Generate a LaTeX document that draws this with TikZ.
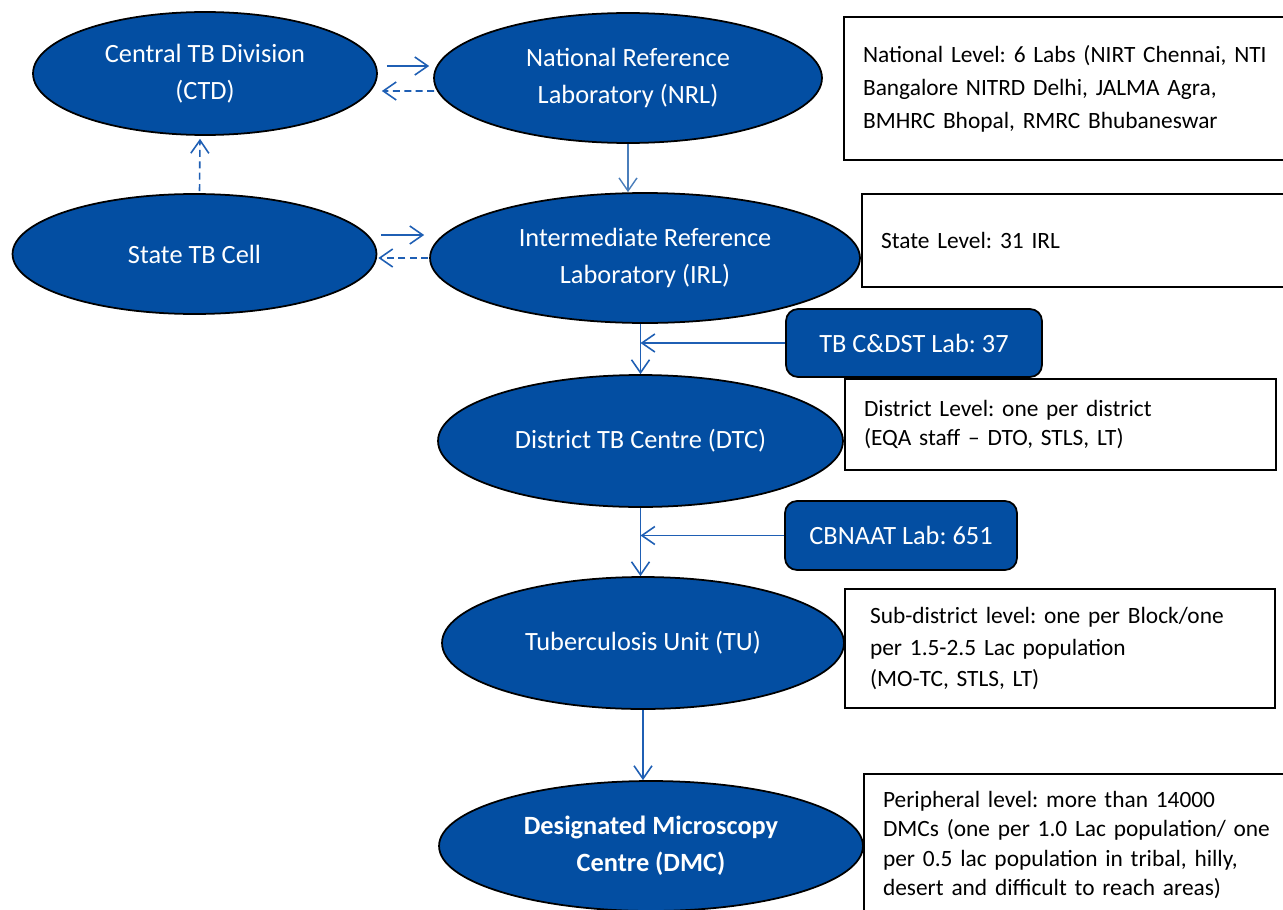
\documentclass[tikz,border=0pt]{standalone}
\usepackage{fontspec}
\setmainfont{Carlito}
\usetikzlibrary{shapes.geometric,arrows.meta}
\definecolor{ovalblue}{HTML}{034EA2}
\definecolor{linkblue}{HTML}{1F5FB4}
\definecolor{paleblue}{HTML}{4A7EBB}

\begin{document}
\frenchspacing
\begin{tikzpicture}[
    x = 0.02cm, y = -0.02cm,
    oval/.style={
        ellipse,
        draw = black,
        fill = ovalblue,
        line width = 1pt,
        text = white,
        inner sep = 0pt,
        align = center,
        font = \fontsize{15}{21}\selectfont
    },
    labbox/.style={
        draw = black,
        fill = ovalblue,
        line width = 1pt,
        rounded corners = 0.24cm,
        text = white,
        font = \fontsize{15}{18}\selectfont
    },
    infobox/.style={
        draw = black,
        fill = white,
        line width = 1.2pt,
        anchor = north west,
        align = left,
        inner xsep = 0.38cm,
        inner ysep = 0pt,
        font = \fontsize{13.3}{17.5}\selectfont
    },
    link/.style={
        draw = linkblue,
        line width = 0.9pt
    },
    back/.style={
        link,
        dash pattern = on 4pt off 2.5pt
    },
    >={Straight Barb[length=0.26cm, width=0.36cm]}
]
\path[use as bounding box, clip] (0,0) rectangle (1283,909);

% hierarchy
\node[oval, minimum width=6.88cm, minimum height=2.46cm] (CTD) at (205,73.5)
    {Central TB Division\\(CTD)};
\node[oval, minimum width=7.76cm, minimum height=2.6cm] (NRL) at (628,78)
    {National Reference\\Laboratory (NRL)};
\node[oval, minimum width=7.28cm, minimum height=2.4cm] (STC) at (194.5,254)
    {State TB Cell};
\node[oval, minimum width=8.6cm, minimum height=2.6cm] (IRL) at (645,258)
    {Intermediate Reference\\Laboratory (IRL)};
\node[oval, minimum width=8.1cm, minimum height=2.64cm] (DTC) at (640.5,441)
    {District TB Centre (DTC)};
\node[oval, minimum width=8.04cm, minimum height=2.64cm] (TU) at (643,643)
    {Tuberculosis Unit (TU)};
\node[oval, minimum width=8.48cm, minimum height=2.6cm, font=\fontsize{15}{21}\selectfont\bfseries] (DMC) at (651,846)
    {Designated Microscopy\\Centre (DMC)};

% labs
\node[labbox, minimum width=5.12cm, minimum height=1.36cm] (cdst) at (914,343) {TB C\&DST Lab: 37};
\node[labbox, minimum width=4.64cm, minimum height=1.38cm] (cbnaat) at (901,535.5) {CBNAAT Lab: 651};

% levels
\node[infobox, text width=8.24cm, minimum height=2.86cm, font=\fontsize{13.3}{18.7}\selectfont] (national) at (843,16)
    {National Level: 6 Labs (NIRT Chennai, NTI\\Bangalore NITRD Delhi, JALMA Agra,\\BMHRC Bhopal, RMRC Bhubaneswar};
\node[infobox, text width=7.84cm, minimum height=1.86cm] (statelvl) at (861,193)
    {State Level: 31 IRL};
\node[infobox, text width=7.86cm, minimum height=1.82cm, font=\fontsize{13.3}{17}\selectfont] (district) at (844,378)
    {District Level: one per district\\(EQA staff -- DTO, STLS, LT)};
\node[infobox, inner xsep=0.5cm, text width=7.6cm, minimum height=2.38cm, font=\fontsize{13.3}{17.9}\selectfont] (subdist) at (844,588)
    {Sub-district level: one per Block/one\\per 1.5-2.5 Lac population\\(MO-TC, STLS, LT)};
\node[infobox, text width=7.84cm, minimum height=2.84cm, font=\fontsize{13.3}{16.8}\selectfont] (periph) at (863,773)
    {Peripheral level: more than 14000\\DMCs (one per 1.0 Lac population/ one\\per 0.5 lac population in tribal, hilly,\\desert and difficult to reach areas)};

% reporting links
\draw[link, ->] ([shift={(9,-7.5)}]CTD.east) -- ([shift={(-4,-12)}]NRL.west);
\draw[back, ->] ([shift={(1,13)}]NRL.west) -- ([shift={(4,17.5)}]CTD.east);
\draw[link, ->] ([shift={(4,-19)}]STC.east) -- ([shift={(-5,-23)}]IRL.west);
\draw[back, ->] ([shift={(-1,0)}]IRL.west) -- ([shift={(1,4)}]STC.east);
\draw[back, ->] ([shift={(5,-2)}]STC.north) -- ([shift={(-5,3)}]CTD.south);

% flow down
\draw[link, draw=paleblue, line width=0.8pt, ->] (NRL.south) -- (NRL.south |- IRL.north);
\draw[link, ->] (IRL.south -| DTC.north) -- (DTC.north);
\foreach \up/\down in {DTC/TU, TU/DMC}
    \draw[link, ->] (\up.south) -- (\up.south |- \down.north);
\foreach \lab in {cdst, cbnaat}
    \draw[link, ->] (\lab.west) -- (\lab.west -| DTC.north);

\end{tikzpicture}
\end{document}
